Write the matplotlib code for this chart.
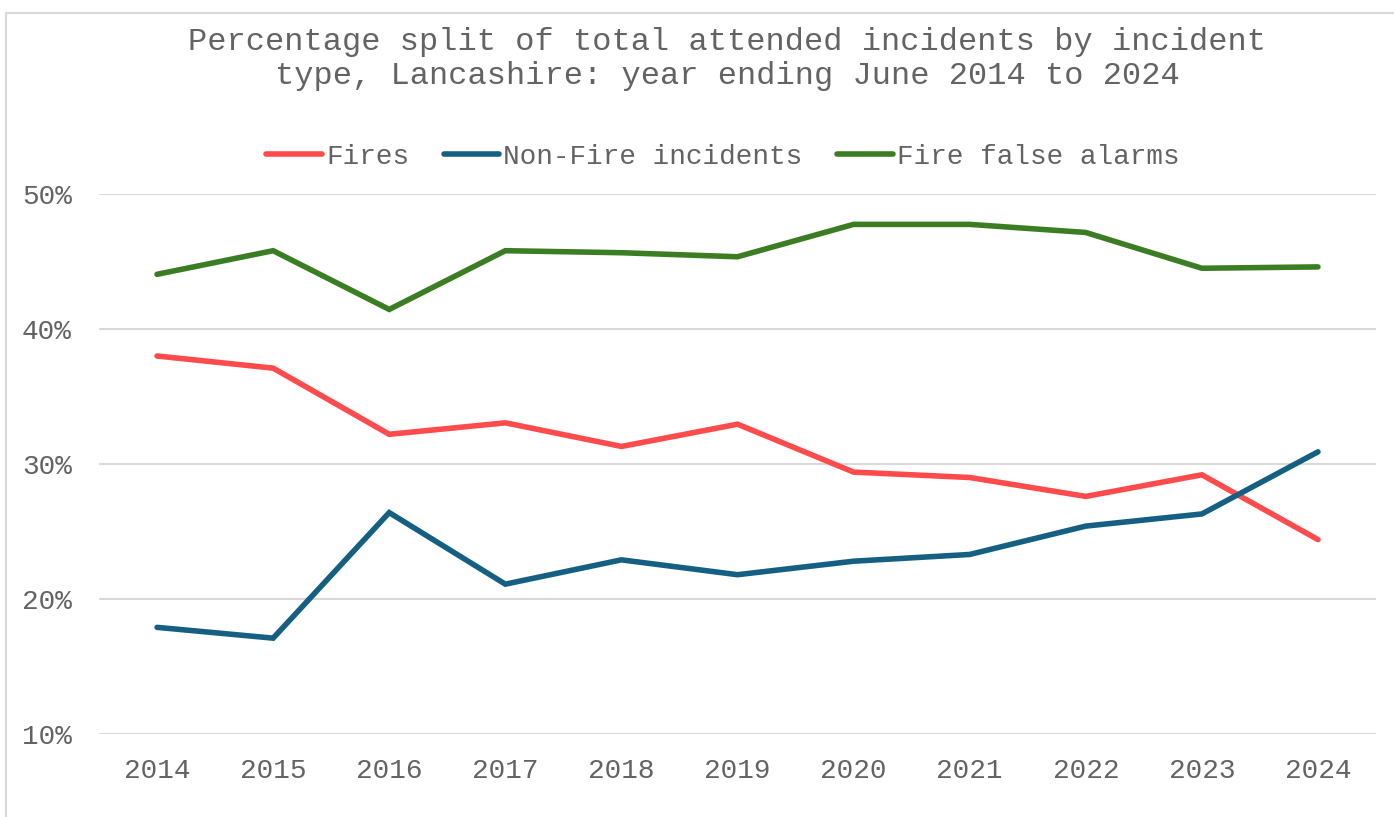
import matplotlib
matplotlib.use("Agg")
import matplotlib.pyplot as plt
from matplotlib.patches import Rectangle
from matplotlib.ticker import FuncFormatter

years = ["2014", "2015", "2016", "2017", "2018", "2019", "2020", "2021", "2022", "2023", "2024"]
fires = [38.0, 37.1, 32.2, 33.05, 31.3, 32.95, 29.4, 29.0, 27.6, 29.2, 24.4]
non_fire = [17.9, 17.1, 26.4, 21.1, 22.9, 21.8, 22.8, 23.3, 25.4, 26.3, 30.9]
false_alarms = [44.05, 45.8, 41.45, 45.8, 45.65, 45.35, 47.75, 47.75, 47.15, 44.5, 44.6]

series_names = ["Fires", "Non-Fire incidents", "Fire false alarms"]
series_colors = ["#FF4B4B", "#156082", "#3B7D23"]
title = "Percentage split of total attended incidents by incident\ntype, Lancashire: year ending June 2014 to 2024"

text_color = "#636363"
plt.rcParams["font.family"] = ["Liberation Mono", "DejaVu Sans Mono"]
W, H = 1394, 817
fig = plt.figure(figsize=(W / 100, H / 100), dpi=100)
fig.patch.set_facecolor("white")

# chart border (clipped at right/bottom like the reference)
fig.patches.append(Rectangle((6 / W, -0.05), 1.2, 1 - 13 / H + 0.05, transform=fig.transFigure,
                             fill=False, edgecolor="#D9D9D9", linewidth=1.5))

ax = fig.add_axes([99 / W, 1 - 734 / H, (1376 - 99) / W, (734 - 194) / H])
x = list(range(len(years)))
for vals, name, col in zip([fires, non_fire, false_alarms], series_names, series_colors):
    ax.plot(x, vals, color=col, lw=4.0, label=name, solid_capstyle="round", solid_joinstyle="miter")

ax.set_xlim(-0.5, len(years) - 0.5)
ax.set_ylim(10, 50)
ax.set_yticks([10, 20, 30, 40, 50])
ax.yaxis.set_major_formatter(FuncFormatter(lambda v, p: f"{v:.0f}%"))
ax.set_xticks(x)
ax.set_xticklabels(years)
ax.grid(axis="y", color="#D9D9D9", lw=1.5)
ax.set_axisbelow(True)
for s in ax.spines.values():
    s.set_visible(False)
ax.tick_params(axis="both", length=0, labelsize=20, labelcolor=text_color)
ax.tick_params(axis="y", pad=19.5)
ax.tick_params(axis="x", pad=17)

fig.text(727 / W, 1 - 59 / H, title, ha="center", va="center", fontsize=23,
         color=text_color, linespacing=1.2)

leg = fig.legend(loc="center", bbox_to_anchor=(723 / W, 1 - 157 / H), ncol=3, frameon=False,
                 fontsize=20, handlelength=2.0, handletextpad=0.15, columnspacing=1.25,
                 labelcolor=text_color)

fig.savefig("out.png", dpi=100, facecolor="white")
